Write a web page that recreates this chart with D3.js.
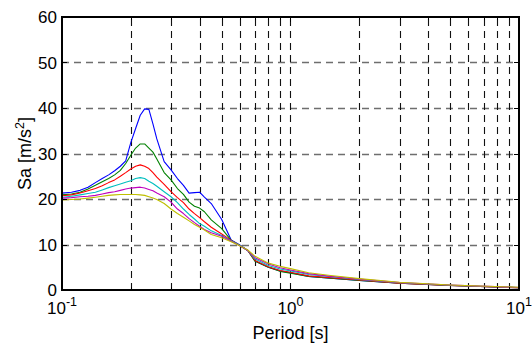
<!DOCTYPE html>
<html lang="en">
<head>
    <meta charset="UTF-8"/>
    <title>Sa spectra</title>
    <script src="https://d3js.org/d3.v7.min.js"></script>
    <style>
        body { margin: 0; background: #fff; }
        text { font-family: "Liberation Sans", Arial, sans-serif; fill: #000; }
    </style>
</head>
<body>
<script>
    // periods [s]
    var periods = [0.1, 0.11, 0.12, 0.13, 0.14, 0.15, 0.16, 0.17, 0.18, 0.19, 0.2, 0.21, 0.22, 0.23, 0.24,
                   0.25, 0.26, 0.28, 0.3, 0.32, 0.34, 0.36, 0.38, 0.4, 0.42, 0.45, 0.5, 0.55, 0.6, 0.65,
                   0.7, 0.8, 0.9, 1.0, 1.2, 1.5, 2, 3, 5, 10];

    // Sa [m/s2] for each record
    var saBlue    = [21.3, 21.5, 21.9, 22.6, 23.6, 24.5, 25.3, 26.2, 27.2, 28.4, 32.4, 35.5, 38.4, 39.8, 39.7,
                     36.5, 33.2, 28.2, 26.4, 24.5, 23.0, 21.3, 21.4, 21.5, 20.4, 19.0, 15.5, 11.0, 9.9, 8.7,
                     6.4, 5.0, 4.2, 3.8, 3.0, 2.6, 2.1, 1.5, 1.0, 0.5];
    var saGreen   = [20.9, 21.1, 21.5, 22.2, 23.0, 23.8, 24.5, 25.3, 26.3, 27.8, 29.6, 31.2, 32.1, 32.1, 31.2,
                     30.3, 28.8, 25.8, 24.2, 22.3, 21.0, 19.3, 18.4, 18.0, 17.2, 15.4, 13.5, 10.9, 9.8, 8.7,
                     6.3, 5.0, 4.1, 3.7, 3.0, 2.6, 2.1, 1.5, 1.0, 0.5];
    var saRed     = [20.7, 20.9, 21.3, 21.8, 22.3, 22.9, 23.6, 24.2, 25.0, 25.8, 26.6, 27.2, 27.5, 27.2, 26.7,
                     25.8, 24.8, 23.2, 21.6, 20.3, 19.2, 17.8, 16.8, 15.9, 15.0, 13.8, 12.3, 10.9, 9.8, 8.7,
                     6.5, 5.1, 4.3, 3.9, 3.1, 2.7, 2.2, 1.5, 1.0, 0.5];
    var saCyan    = [20.4, 20.6, 20.9, 21.2, 21.5, 22.0, 22.5, 22.9, 23.3, 23.7, 24.0, 24.5, 24.7, 24.5, 23.9,
                     23.4, 22.8, 21.6, 20.5, 19.2, 17.8, 16.6, 15.6, 14.6, 14.0, 13.0, 12.0, 10.8, 9.8, 8.7,
                     6.8, 5.4, 4.6, 4.2, 3.4, 2.9, 2.3, 1.6, 1.05, 0.55];
    var saMagenta = [20.2, 20.3, 20.5, 20.6, 20.8, 21.1, 21.4, 21.6, 21.9, 22.2, 22.4, 22.5, 22.6, 22.4, 22.1,
                     21.8, 21.3, 20.5, 19.3, 17.8, 16.8, 15.7, 14.8, 14.0, 13.3, 12.6, 11.8, 10.7, 9.7, 8.7,
                     7.1, 5.7, 4.9, 4.4, 3.6, 3.0, 2.4, 1.65, 1.1, 0.55];
    var saYellow  = [19.8, 19.9, 20.0, 20.2, 20.4, 20.6, 20.8, 20.9, 21.0, 21.0, 21.0, 21.0, 20.9, 20.8, 20.5,
                     20.2, 19.9, 19.0, 17.8, 16.8, 16.0, 15.2, 14.4, 13.8, 13.2, 12.2, 11.5, 10.6, 9.7, 8.8,
                     7.4, 5.9, 5.2, 4.7, 3.8, 3.2, 2.5, 1.7, 1.1, 0.6];

    var series = [saBlue, saGreen, saRed, saCyan, saMagenta, saYellow];
    var colors = ["#0000ff", "#008000", "#ff0000", "#00bfbf", "#bf00bf", "#bfbf00"];

    var yTicks = [0, 10, 20, 30, 40, 50, 60];
    var xDecades = [0.1, 1, 10];
    var xDecadeExp = ["-1", "0", "1"];

    var w = 532, h = 349;
    var padL = 62, padR = 519, padT = 17, padB = 290;

    var xScale = d3.scaleLog().domain([0.1, 10]).range([padL, padR]);
    var yScale = d3.scaleLinear().domain([0, 60]).range([padB, padT]);

    var svg = d3.select("body").append("svg")
                .attr("width", w)
                .attr("height", h);

    svg.append("rect").attr("width", w).attr("height", h).attr("fill", "#fff");

    // minor grid positions on log axis
    var xGrid = [];
    for (var dec = 0.1; dec < 10; dec *= 10) {
        for (var k = 1; k <= 9; k++) {
            var v = +(dec * k).toPrecision(3);
            if (v > 0.1) xGrid.push(v);
        }
    }

    // horizontal grid
    svg.append("g").selectAll("line")
       .data(yTicks.slice(1, -1))
       .enter().append("line")
       .attr("x1", padL).attr("x2", padR)
       .attr("y1", function(d) { return Math.round(yScale(d)) + 0.5; })
       .attr("y2", function(d) { return Math.round(yScale(d)) + 0.5; })
       .attr("stroke", "#6e6e6e")
       .attr("stroke-width", 1.3)
       .attr("stroke-dasharray", "7,5");

    // vertical grid
    svg.append("g").selectAll("line")
       .data(xGrid)
       .enter().append("line")
       .attr("x1", function(d) { return Math.round(xScale(d)) + 0.5; })
       .attr("x2", function(d) { return Math.round(xScale(d)) + 0.5; })
       .attr("y1", padB).attr("y2", padT)
       .attr("stroke", "#111")
       .attr("stroke-width", 1.1)
       .attr("stroke-dasharray", "7,5");

    // curves
    svg.append("clipPath").attr("id", "clip")
       .append("rect").attr("x", padL).attr("y", padT)
       .attr("width", padR - padL).attr("height", padB - padT);

    var line = d3.line()
                 .x(function(d, i) { return xScale(periods[i]); })
                 .y(function(d) { return yScale(d); });

    svg.append("g").attr("clip-path", "url(#clip)")
       .selectAll("path")
       .data(series)
       .enter().append("path")
       .attr("d", line)
       .attr("fill", "none")
       .attr("stroke", function(d, i) { return colors[i]; })
       .attr("stroke-width", 1.1)
       .attr("stroke-linejoin", "round");

    // inward ticks
    var ticks = svg.append("g").attr("stroke", "#000").attr("stroke-width", 1);
    yTicks.forEach(function(t) {
        var y = Math.round(yScale(t)) + 0.5;
        ticks.append("line").attr("x1", padL).attr("x2", padL + 5).attr("y1", y).attr("y2", y);
        ticks.append("line").attr("x1", padR).attr("x2", padR - 5).attr("y1", y).attr("y2", y);
    });
    xGrid.concat(xDecades).forEach(function(t) {
        var x = Math.round(xScale(t)) + 0.5;
        var len = xDecades.indexOf(t) >= 0 ? 5 : 3;
        ticks.append("line").attr("x1", x).attr("x2", x).attr("y1", padB).attr("y2", padB - len);
        ticks.append("line").attr("x1", x).attr("x2", x).attr("y1", padT).attr("y2", padT + len);
    });

    // box
    svg.append("rect")
       .attr("x", padL).attr("y", padT)
       .attr("width", padR - padL).attr("height", padB - padT)
       .attr("fill", "none")
       .attr("stroke", "#000")
       .attr("stroke-width", 2);

    // y tick labels
    svg.append("g").selectAll("text")
       .data(yTicks)
       .enter().append("text")
       .attr("x", padL - 5)
       .attr("y", function(d) { return yScale(d) + 6; })
       .attr("text-anchor", "end")
       .attr("font-size", "17px")
       .text(function(d) { return d; });

    // x tick labels 10^n
    var xl = svg.append("g").selectAll("text")
       .data(xDecades)
       .enter().append("text")
       .attr("x", function(d) { return xScale(d); })
       .attr("y", 314)
       .attr("text-anchor", "middle")
       .attr("font-size", "17px");
    xl.append("tspan").text("10");
    xl.append("tspan")
      .attr("dy", -8)
      .attr("font-size", "12.5px")
      .text(function(d, i) { return xDecadeExp[i]; });

    // axis titles
    svg.append("text")
       .attr("x", (padL + padR) / 2)
       .attr("y", 339)
       .attr("text-anchor", "middle")
       .attr("font-size", "18px")
       .text("Period [s]");

    var yl = svg.append("text")
       .attr("transform", "translate(31," + ((padT + padB) / 2) + ") rotate(-90)")
       .attr("text-anchor", "middle")
       .attr("font-size", "18px");
    yl.append("tspan").text("Sa [m/s");
    yl.append("tspan").attr("dy", -7).attr("font-size", "12.5px").text("2");
    yl.append("tspan").attr("dy", 7).text("]");
</script>
</body>
</html>
